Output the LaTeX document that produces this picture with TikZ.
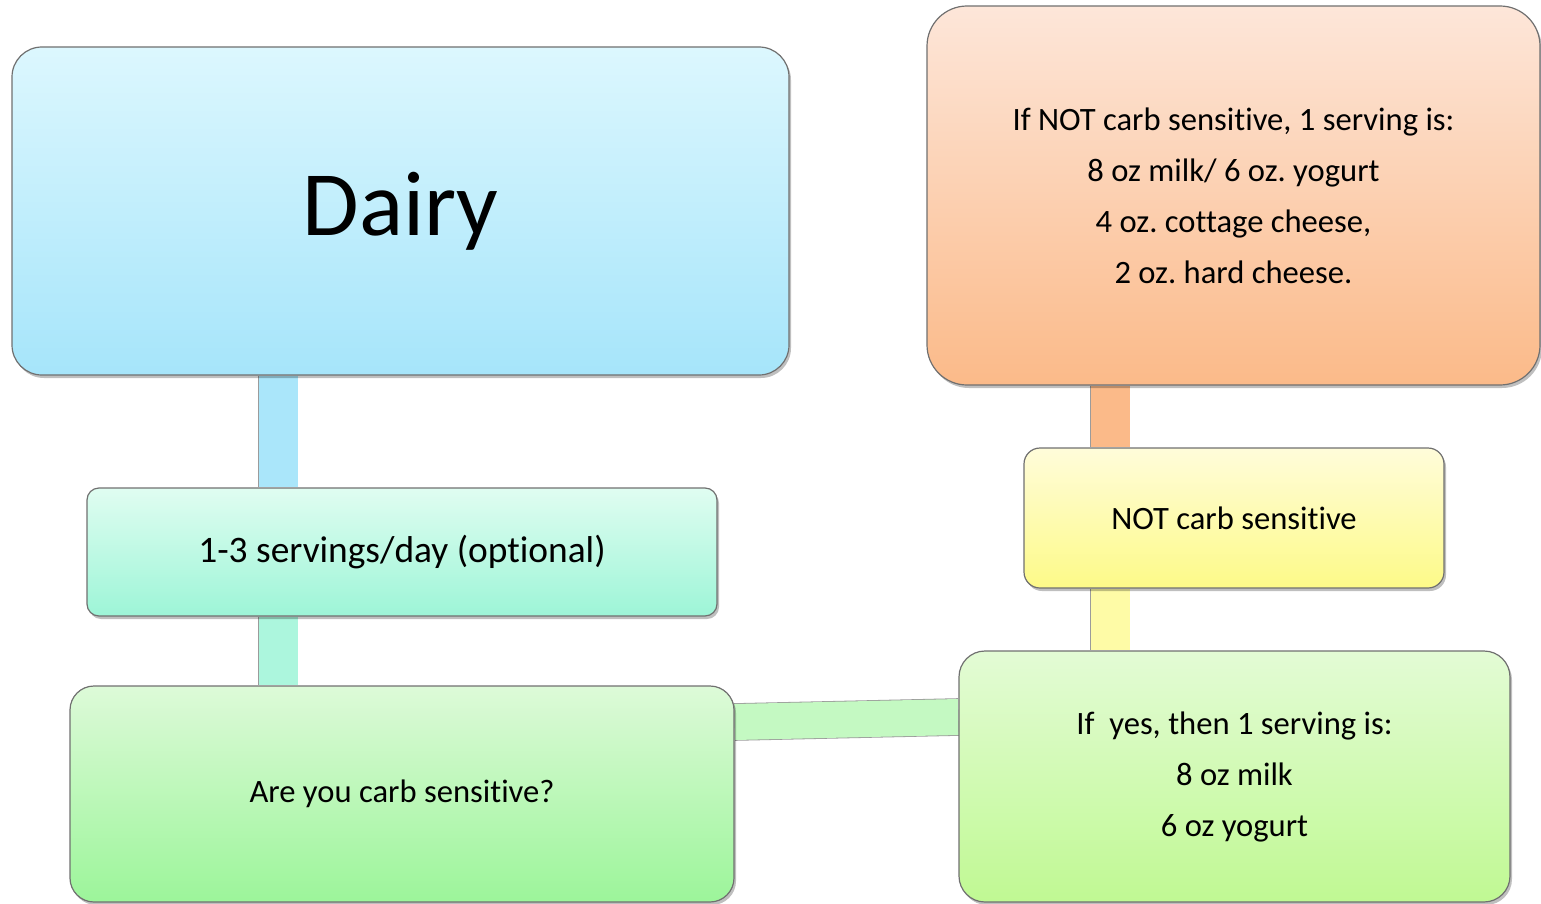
\documentclass[tikz,border=0pt]{standalone}
\usepackage{fontspec}
\setmainfont[Ligatures={NoCommon}]{Carlito}
\frenchspacing
\usetikzlibrary{shadows,backgrounds}
\definecolor{edge}{HTML}{707070}
\definecolor{blueT}{HTML}{DCF7FE}\definecolor{blueB}{HTML}{A6E5FA}
\definecolor{mintT}{HTML}{E0FDF1}\definecolor{mintB}{HTML}{9DF5D7}
\definecolor{grnT}{HTML}{DDFAD8}\definecolor{grnB}{HTML}{9CF59A}
\definecolor{orT}{HTML}{FDE6D9}\definecolor{orB}{HTML}{FBBA89}
\definecolor{yeT}{HTML}{FFFCDA}\definecolor{yeB}{HTML}{FDFA88}
\definecolor{lgT}{HTML}{E3FBD5}\definecolor{lgB}{HTML}{C0F993}
\tikzset{
  box/.style={rectangle, draw=edge, line width=0.6pt, align=center,
    drop shadow={shadow xshift=1pt, shadow yshift=-1.5pt, fill=black, opacity=0.25},
    font=\fontsize{16.3}{25.5}\selectfont, text=black, inner sep=0pt},
  bar/.style={draw=edge!70, line width=0.4pt, double distance=19.5pt},
}
\begin{document}
\begin{tikzpicture}[x=0.5pt,y=-0.5pt]
\useasboundingbox (0,0) rectangle (1541,904);
\node[box, rounded corners=15pt, top color=blueT, bottom color=blueB,
  minimum width=388.5pt, minimum height=164pt,
  font=\fontsize{46}{50}\selectfont] (dairy) at (400.5,211) {Dairy};
\node[box, rounded corners=6pt, top color=mintT, bottom color=mintB,
  minimum width=315pt, minimum height=64pt,
  font=\fontsize{18.7}{22}\selectfont] (serv) at (402,552) {1-3 servings/day (optional)};
\node[box, rounded corners=12pt, top color=grnT, bottom color=grnB,
  minimum width=332pt, minimum height=108pt] (carb) at (402,794) {Are you carb sensitive?};
\node[box, rounded corners=20pt, top color=orT, bottom color=orB,
  minimum width=306.5pt, minimum height=189.5pt] (notinfo) at (1233.5,195.5)
  {If NOT carb sensitive, 1 serving is:\\8 oz milk/ 6 oz. yogurt\\4 oz. cottage cheese,\\2 oz. hard cheese.};
\node[box, rounded corners=8pt, top color=yeT, bottom color=yeB,
  minimum width=210pt, minimum height=70pt] (notcarb) at (1234,518) {NOT carb sensitive};
\node[box, rounded corners=13pt, top color=lgT, bottom color=lgB,
  minimum width=275.5pt, minimum height=125.5pt] (ifyes) at (1234.5,776.5)
  {If\ \ yes, then 1 serving is:\\8 oz milk\\6 oz yogurt};
\coordinate (lx) at (278,0);
\coordinate (rx) at (1110,0);
\begin{pgfonlayer}{background}
  \draw[bar, double={blueB!95!white}] (dairy.south -| lx) -- (serv.north -| lx);
  \draw[bar, double={mintB!85!white}] (serv.south -| lx) -- (carb.north -| lx);
  \draw[bar, double={grnB!60!white}, double distance=18pt] ([yshift=36pt]carb.east) -- ([yshift=29.75pt]ifyes.west);
  \draw[bar, double={orB}] (notinfo.south -| rx) -- (notcarb.north -| rx);
  \draw[bar, double={yeB!75!white}] (notcarb.south -| rx) -- (ifyes.north -| rx);
\end{pgfonlayer}
\end{tikzpicture}
\end{document}
